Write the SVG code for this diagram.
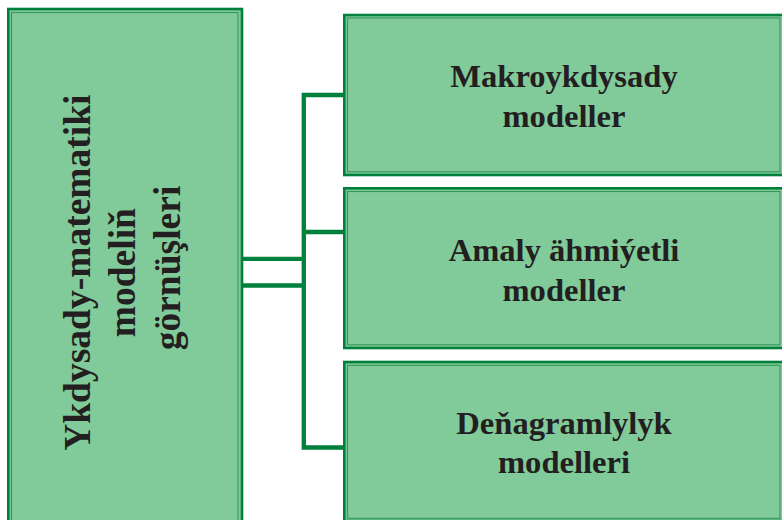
<svg xmlns="http://www.w3.org/2000/svg" width="782" height="520" viewBox="0 0 782 520">
  <style>
    .outer { fill: #81ca9a; stroke: #00803d; stroke-width: 2.6; }
    .inner { fill: none; stroke: #35995a; stroke-width: 1.1; }
    .lbl { font-family: "Liberation Serif", "Times New Roman", serif; font-weight: bold; fill: #231f20; text-anchor: middle; }
    .conn { fill: none; stroke: #00803d; stroke-width: 4.3; stroke-linejoin: miter; stroke-linecap: butt; }
  </style>
  <rect x="0" y="0" width="782" height="520" fill="#ffffff"/>
  <g id="connectors">
    <path class="conn" d="M344,95 H303.8 V447.5 H344"/>
    <path class="conn" d="M344,232 H303.8"/>
    <path class="conn" d="M242,258.8 H303.8"/>
    <path class="conn" d="M242,285.5 H303.8"/>
  </g>
  <g id="node-main">
    <rect class="outer" x="8.3" y="9" width="233.7" height="525"/>
    <rect class="inner" x="11.5" y="12.5" width="226.5" height="520"/>
    <text class="lbl" font-size="37.5" transform="translate(90,268) rotate(-90)">
      <tspan x="0" y="0">Ykdysady-matematiki</tspan>
      <tspan x="0" y="45">modeliň</tspan>
      <tspan x="0" y="90">görnüşleri</tspan>
    </text>
  </g>
  <g id="node-makro">
    <rect class="outer" x="344.3" y="15" width="439" height="160"/>
    <rect class="inner" x="347.5" y="18" width="432.5" height="153.8"/>
    <text class="lbl" font-size="32.6" x="564" y="87">Makroykdysady</text>
    <text class="lbl" font-size="32.6" x="564" y="127">modeller</text>
  </g>
  <g id="node-amaly">
    <rect class="outer" x="344.3" y="188.3" width="439" height="159.7"/>
    <rect class="inner" x="347.5" y="191.5" width="432.5" height="153.3"/>
    <text class="lbl" font-size="32.6" x="564" y="261">Amaly ähmiýetli</text>
    <text class="lbl" font-size="32.6" x="564" y="301">modeller</text>
  </g>
  <g id="node-denagram">
    <rect class="outer" x="344.3" y="362" width="439" height="159"/>
    <rect class="inner" x="347.5" y="365.3" width="432.5" height="153"/>
    <text class="lbl" font-size="32.6" x="564" y="434">Deňagramlylyk</text>
    <text class="lbl" font-size="32.6" x="564" y="473">modelleri</text>
  </g>
</svg>
